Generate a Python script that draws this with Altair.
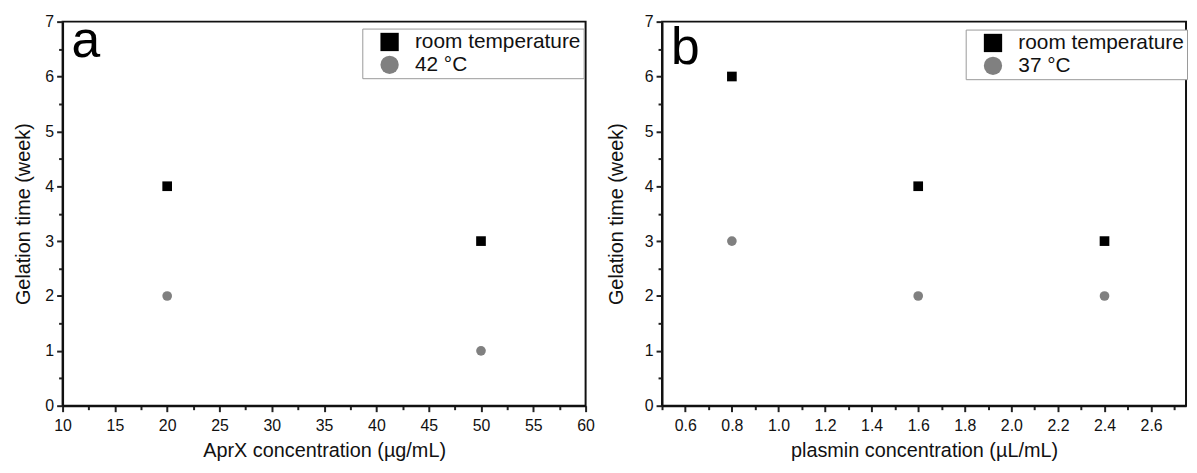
import altair as alt
import pandas as pd

# ---- data ----
a_x = [20, 50]
a_room = [4, 3]
a_hot = [2, 1]
a_series = ["room temperature", "42 °C"]

b_x = [0.8, 1.6, 2.4]
b_room = [6, 4, 3]
b_hot = [3, 2, 2]
b_series = ["room temperature", "37 °C"]

a_xticks = [10 + 2.5 * i for i in range(21)]
b_xticks = [round(0.5 + 0.1 * i, 1) for i in range(23)]
yticks = [0.5 * i for i in range(15)]

FONT = "Liberation Sans"


def long_df(xs, room, hot, names):
    rows = [{"x": x, "y": y, "series": names[0]} for x, y in zip(xs, room)]
    rows += [{"x": x, "y": y, "series": names[1]} for x, y in zip(xs, hot)]
    return pd.DataFrame(rows)


def panel(df, names, xdom, xvals, major_test, label_expr, xtitle, letter,
          letter_y, lx, ly, ytp, width):
    legend = alt.Legend(
        title=None, orient="none", legendX=lx, legendY=ly,
        fillColor="white", strokeColor="#999999",
        padding=3, symbolSize=340, symbolOffset=14, labelOffset=15,
        rowPadding=1, labelFontSize=21, labelFont=FONT, labelColor="#111111",
        labelLimit=400, symbolStrokeWidth=0,
    )
    shape_scale = alt.Scale(domain=names, range=["square", "circle"])
    color_scale = alt.Scale(domain=names, range=["#000000", "#808080"])
    xaxis = alt.Axis(
        values=xvals, title=xtitle, titleFont=FONT, titleFontSize=20,
        titleFontWeight="normal", titleColor="#111111", titlePadding=7,
        labelFont=FONT, labelFontSize=16, labelColor="#111111", labelPadding=6,
        labelExpr=label_expr, labelOverlap=False, labelFlush=False,
        tickSize={"condition": {"test": major_test, "value": 6}, "value": 4},
        tickWidth=2, tickColor="#222222", domainColor="#111111", domainWidth=2,
        grid=False,
    )
    yaxis = alt.Axis(
        values=yticks, title="Gelation time (week)", titleFont=FONT,
        titleFontSize=20, titleFontWeight="normal", titleColor="#111111",
        titlePadding=ytp, labelFont=FONT, labelFontSize=16,
        labelColor="#111111", labelPadding=3,
        labelExpr="datum.value % 1 === 0 ? datum.value : ''",
        labelOverlap=False, labelFlush=False,
        tickSize={"condition": {"test": "datum.value % 1 === 0", "value": 6}, "value": 4},
        tickWidth=2, tickColor="#222222", domainColor="#111111", domainWidth=2,
        grid=False,
    )
    pts = alt.Chart(df).mark_point(filled=True, opacity=1, size=95).encode(
        x=alt.X("x:Q", scale=alt.Scale(domain=xdom, nice=False, zero=False), axis=xaxis),
        y=alt.Y("y:Q", scale=alt.Scale(domain=[0, 7], nice=False), axis=yaxis),
        shape=alt.Shape("series:N", scale=shape_scale, legend=legend),
        color=alt.Color("series:N", scale=color_scale, legend=legend),
    )
    lab = alt.Chart(pd.DataFrame({"t": [letter]})).mark_text(
        font=FONT, fontSize=52, align="left", baseline="alphabetic", color="black"
    ).encode(x=alt.value(9), y=alt.value(letter_y), text="t:N")
    return alt.layer(pts, lab).properties(width=width, height=387)


pa = panel(long_df(a_x, a_room, a_hot, a_series), a_series, [10, 60], a_xticks,
           "datum.value % 5 === 0",
           "datum.value % 5 === 0 ? datum.value : ''",
           "AprX concentration (µg/mL)", "a", 36, 302, 7, 11, 527)
pb = panel(long_df(b_x, b_room, b_hot, b_series), b_series, [0.5, 2.75], b_xticks,
           "round(datum.value * 10) % 2 === 0",
           "round(datum.value * 10) % 2 === 0 ? format(datum.value, '.1f') : ''",
           "plasmin concentration (µL/mL)", "b", 43, 306, 8, 18, 528)

chart = alt.hconcat(pa, pb, spacing=10).resolve_scale(
    x="independent", y="independent", color="independent", shape="independent"
).properties(
    padding={"left": 5, "top": 3, "right": 0, "bottom": 0}
).configure_view(stroke="#111111", strokeWidth=2)

chart.save("out.html", embed_options={"renderer": "svg", "actions": False})
